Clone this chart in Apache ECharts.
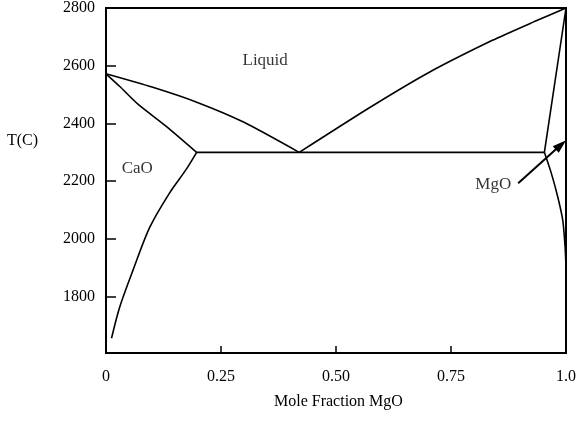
<!DOCTYPE html>
<html>
<head>
<meta charset="utf-8">
<script src="https://cdn.jsdelivr.net/npm/echarts@6/dist/echarts.min.js"></script>
<style>html,body{margin:0;padding:0;background:#fff}#c{width:579px;height:426px}</style>
</head>
<body>
<div id="c"></div>
<script>
// Phase boundaries: [mole fraction MgO, T(C)]
const liquidusCaO = [[0,2572],[0.1,2526],[0.2,2472],[0.3,2404],[0.42,2300]];
const liquidusMgO = [[0.42,2300],[0.57,2452],[0.7,2575],[0.84,2688],[0.93,2752],[1.0,2800]];
const solidusCaO = [[0,2572],[0.03,2528],[0.07,2466],[0.131,2390],[0.197,2300]];
const solvusCaO = [[0.012,1656],[0.030,1765],[0.059,1893],[0.095,2040],[0.138,2159],[0.174,2240],[0.197,2300]];
const eutecticLine = [[0.197,2300],[0.953,2300]];
const solidusMgO = [[1.0,2800],[0.953,2300]];
const solvusMgO = [[0.953,2300],[0.968,2228],[0.982,2146],[0.993,2064],[0.998,1972],[1.0,1900]];
const phaseLabels = [['Liquid',0.346,2617],['CaO',0.068,2243],['MgO',0.842,2187]];
const arrowFrom = [0.896,2193];
const arrowTo = [0.989,2326];
const xTickValues = [0,0.25,0.5,0.75,1.0];
const xTickLabels = ['0','0.25','0.50','0.75','1.0'];
const yTickValues = [1800,2000,2200,2400,2600,2800];

const FONT = '"Liberation Serif", "DejaVu Serif", serif';
const chart = echarts.init(document.getElementById('c'));
function curve(data, smooth){
  return {type:'line', data:data, smooth:smooth, symbol:'none', silent:true,
    lineStyle:{color:'#000', width:1.6}, z:3};
}
chart.setOption({
  animation:false,
  backgroundColor:'#fff',
  grid:{left:106, right:9, top:8, bottom:73, show:true, borderColor:'#000', borderWidth:2},
  xAxis:{type:'value', min:0, max:1, interval:0.25,
    axisLine:{show:true, onZero:false, lineStyle:{color:'#000', width:2}},
    axisTick:{show:true, inside:true, length:7, lineStyle:{color:'#000', width:1.5},
      customValues:[0.25,0.5,0.75]},
    axisLabel:{color:'#000', fontFamily:FONT, fontSize:16, margin:16,
      customValues:xTickValues,
      formatter:function(v){const i=xTickValues.indexOf(v);return i>=0?xTickLabels[i]:'';}},
    splitLine:{show:false}},
  yAxis:{type:'value', min:1605, max:2800,
    axisLine:{show:true, lineStyle:{color:'#000', width:2}},
    axisTick:{show:true, inside:true, length:10, lineStyle:{color:'#000', width:1.5},
      customValues:[1800,2000,2200,2400,2600]},
    axisLabel:{color:'#000', fontFamily:FONT, fontSize:16, margin:11, customValues:yTickValues,
      formatter:function(v){return String(v);}},
    splitLine:{show:false}},
  graphic:[
    {type:'text', left:7, top:133, style:{text:'T(C)', font:'16px '+FONT, fill:'#000'}},
    {type:'text', left:274, top:394, style:{text:'Mole Fraction MgO', font:'16px '+FONT, fill:'#000'}}
  ],
  series:[
    curve(liquidusCaO, 0.2),
    curve(liquidusMgO, 0.2),
    curve(solidusCaO, 0.2),
    curve(solvusCaO, 0.3),
    curve(eutecticLine, false),
    curve(solidusMgO, false),
    Object.assign(curve(solvusMgO, 0.2), {
      markLine:{silent:true, symbol:['none','triangle'], symbolSize:[9,14],
        lineStyle:{color:'#000', width:2, type:'solid'}, label:{show:false},
        data:[[{coord:arrowFrom},{coord:arrowTo}]]}
    }),
    {type:'scatter', symbolSize:0, silent:true,
      data:phaseLabels.map(function(p){return {name:p[0], value:[p[1],p[2]]};}),
      label:{show:true, position:'inside', formatter:'{b}', color:'#000', fontFamily:FONT, fontSize:17}}
  ]
});
</script>
</body>
</html>
